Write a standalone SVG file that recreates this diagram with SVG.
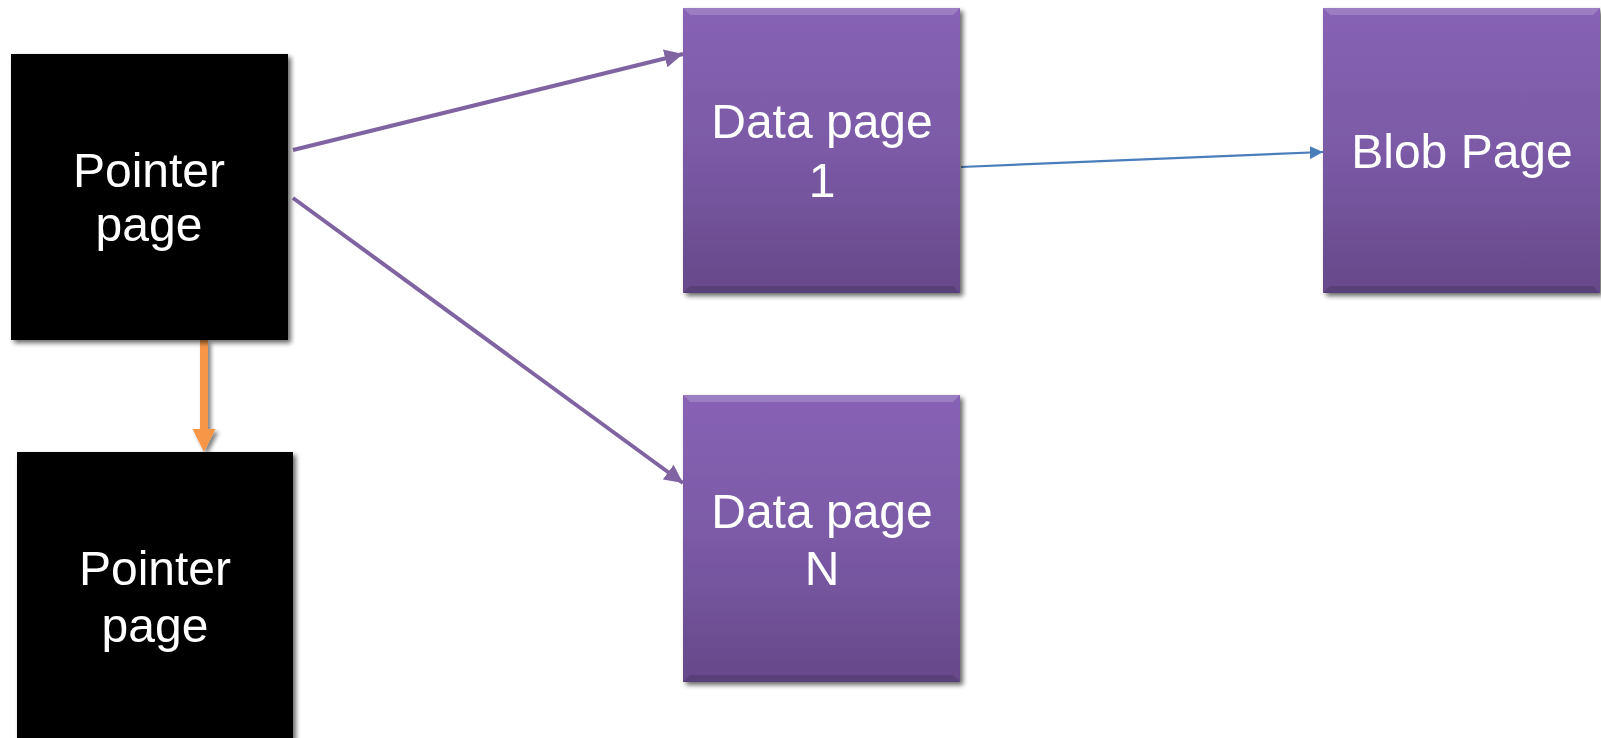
<svg xmlns="http://www.w3.org/2000/svg" width="1601" height="738" viewBox="0 0 1601 738">
<defs>
<linearGradient id="pg" x1="0" y1="0" x2="0" y2="1">
<stop offset="0" stop-color="#8762b5"/>
<stop offset="0.5" stop-color="#7b5aa6"/>
<stop offset="1" stop-color="#664989"/>
</linearGradient>
<filter id="sh" x="-10%" y="-10%" width="125%" height="125%">
<feGaussianBlur in="SourceAlpha" stdDeviation="2.5"/>
<feOffset dx="3" dy="3" result="b"/>
<feComponentTransfer><feFuncA type="linear" slope="0.6"/></feComponentTransfer>
<feMerge><feMergeNode/><feMergeNode in="SourceGraphic"/></feMerge>
</filter>
<filter id="sh2" filterUnits="userSpaceOnUse" x="150" y="320" width="120" height="160">
<feGaussianBlur in="SourceAlpha" stdDeviation="2"/>
<feOffset dx="3" dy="3"/>
<feComponentTransfer><feFuncA type="linear" slope="0.5"/></feComponentTransfer>
<feMerge><feMergeNode/><feMergeNode in="SourceGraphic"/></feMerge>
</filter>
<marker id="ap" viewBox="0 0 10 10" refX="10" refY="5" markerWidth="4.6" markerHeight="4.6" orient="auto" markerUnits="strokeWidth">
<path d="M0,0 L10,5 L0,10 z" fill="#8064a2"/>
</marker>
<marker id="ab" viewBox="0 0 10 10" refX="10" refY="5" markerWidth="6" markerHeight="6" orient="auto" markerUnits="strokeWidth">
<path d="M0,0 L10,5 L0,10 z" fill="#4a7ebb"/>
</marker>
</defs>
<style>
.lbl{font-family:"Liberation Sans",Arial,sans-serif;font-size:48px;fill:#ffffff;text-anchor:middle}
.blk{fill:#000000}
.pur{fill:url(#pg)}
.bev{fill:#ffffff;opacity:0.18}
.bevd{fill:#000000;opacity:0.12}
</style>
<rect width="1601" height="738" fill="#ffffff"/>
<g id="connectors">
<line x1="293" y1="150" x2="683" y2="54" stroke="#8064a2" stroke-width="4" marker-end="url(#ap)"/>
<line x1="293" y1="198" x2="683" y2="483" stroke="#8064a2" stroke-width="4" marker-end="url(#ap)"/>
<line x1="961" y1="167" x2="1323" y2="152" stroke="#4a7ebb" stroke-width="2.2" marker-end="url(#ab)"/>
<g filter="url(#sh2)">
<rect x="200" y="340" width="8" height="90" fill="#f79646"/>
<path d="M192.5,429 L215.5,429 L204,452 Z" fill="#f79646"/>
</g>
</g>
<g id="pointer1" filter="url(#sh)">
<rect class="blk" x="11" y="54" width="277" height="286"/>
<text class="lbl" x="149" y="187">Pointer</text>
<text class="lbl" x="149" y="241">page</text>
</g>
<g id="pointer2" filter="url(#sh)">
<rect class="blk" x="17" y="452" width="276" height="300"/>
<text class="lbl" x="155" y="585">Pointer</text>
<text class="lbl" x="155" y="642">page</text>
</g>
<g id="data1" filter="url(#sh)">
<rect class="pur" x="683" y="8" width="277" height="285"/>
<path class="bev" d="M683,8 L960,8 L953,15 L690,15 Z"/>
<path class="bevd" d="M683,293 L960,293 L953,286 L690,286 Z"/>
<text class="lbl" x="822" y="138">Data page</text>
<text class="lbl" x="822" y="197">1</text>
</g>
<g id="dataN" filter="url(#sh)">
<rect class="pur" x="683" y="395" width="277" height="287"/>
<path class="bev" d="M683,395 L960,395 L953,402 L690,402 Z"/>
<path class="bevd" d="M683,682 L960,682 L953,675 L690,675 Z"/>
<text class="lbl" x="822" y="528">Data page</text>
<text class="lbl" x="822" y="585">N</text>
</g>
<g id="blob" filter="url(#sh)">
<rect class="pur" x="1323" y="8" width="277" height="285"/>
<path class="bev" d="M1323,8 L1600,8 L1593,15 L1330,15 Z"/>
<path class="bevd" d="M1323,293 L1600,293 L1593,286 L1330,286 Z"/>
<text class="lbl" x="1462" y="168">Blob Page</text>
</g>
</svg>
